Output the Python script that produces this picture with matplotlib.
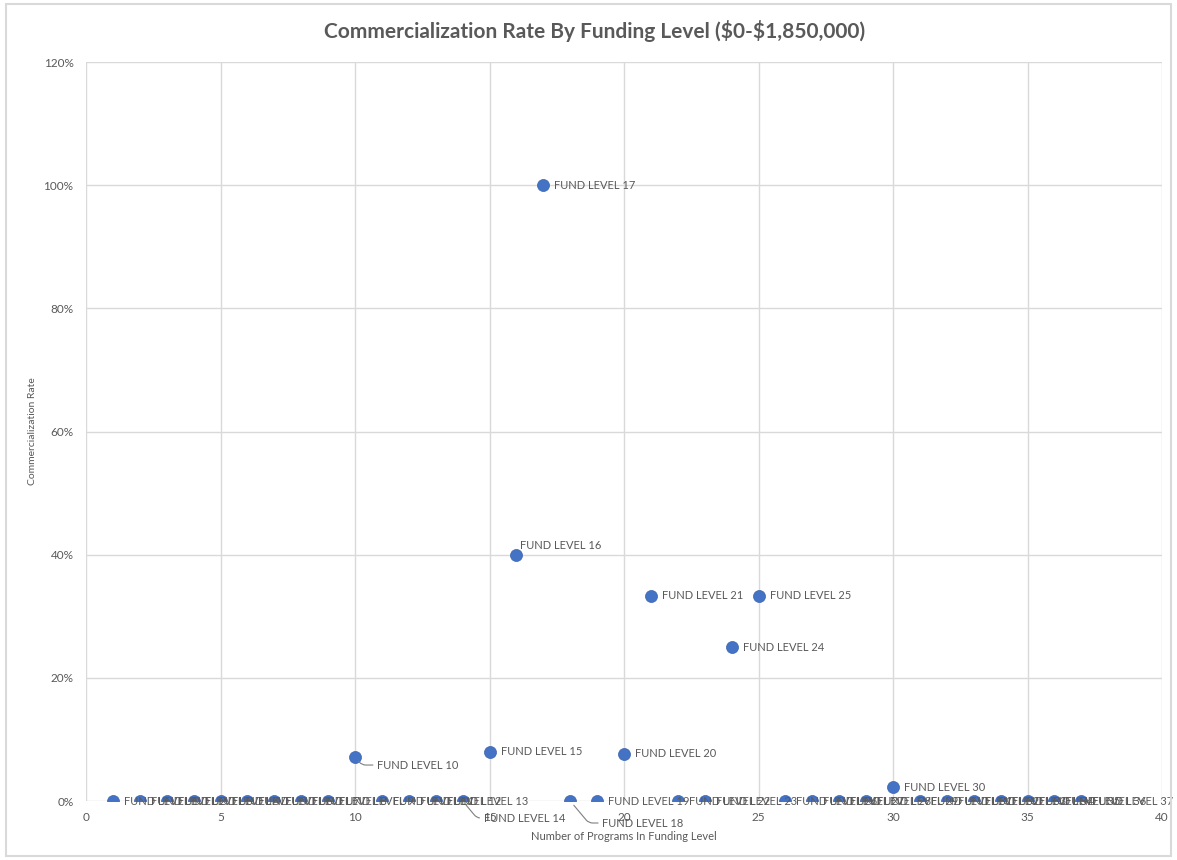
import numpy as np
import matplotlib.pyplot as plt
from matplotlib.ticker import PercentFormatter
from matplotlib.patches import Rectangle

plt.rcParams['font.family'] = ['Lato', 'DejaVu Sans']

# funding levels 1..37, x = number of programs, y = commercialization rate
levels = list(range(1, 38))
programs = list(range(1, 38))
rates = [0.0] * 37
nonzero = {10: 0.0714, 15: 0.08, 16: 0.40, 17: 1.00, 20: 0.0769,
           21: 0.3333, 24: 0.25, 25: 0.3333, 30: 0.022}
for lv, r in nonzero.items():
    rates[lv - 1] = r
labels = [f"FUND LEVEL {lv}" for lv in levels]

gray = '#595959'
grid = '#d9d9d9'
blue = '#4472c4'

fig = plt.figure(figsize=(11.77, 8.6), dpi=100)
fig.patches.append(Rectangle((0.005, 0.005), 0.99, 0.99, transform=fig.transFigure,
                             fill=False, edgecolor='#d9d9d9', linewidth=1.5))
ax = fig.add_axes([0.0731, 0.0686, 0.9142, 0.8593])

ax.scatter(programs, rates, s=75, color=blue, edgecolors='#3a64b0',
           linewidths=0.5, zorder=3)

# label offsets in pixels; a few labels sit away from the point with a leader
offsets = {16: (4, 4), 10: (22, -8), 14: (21, -17), 18: (32, -22)}
leaders = {10, 14, 18}
for lv, x, y, txt in zip(levels, programs, rates, labels):
    dx, dy = offsets.get(lv, (11, 0))
    kw = {}
    if lv in leaders:
        kw['arrowprops'] = dict(arrowstyle='-', color='#7f7f7f', lw=0.8,
                                shrinkA=1, shrinkB=4,
                                connectionstyle='angle,angleA=0,angleB=-50,rad=4')
    ax.annotate(txt, (x, y), xytext=(dx, dy), textcoords='offset pixels',
                ha='left', va='bottom' if lv == 16 else 'center',
                fontsize=8, color=gray, zorder=4, **kw)

ax.set_xlim(0, 40)
ax.set_ylim(0, 1.2)
ax.set_xticks(np.arange(0, 41, 5))
ax.set_yticks(np.arange(0, 1.21, 0.2))
ax.yaxis.set_major_formatter(PercentFormatter(1.0, decimals=0))
ax.grid(True, color=grid, linewidth=1)
ax.set_axisbelow(True)
for s in ax.spines.values():
    s.set_visible(False)
ax.tick_params(axis='x', length=0, colors=gray, labelsize=8.5, pad=8)
ax.tick_params(axis='y', length=0, colors=gray, labelsize=8.5, pad=9)

fig.suptitle(r'Commercialization Rate By Funding Level (\$0-\$1,850,000)',
             x=0.505, y=0.977, fontsize=15, fontweight='bold', color=gray)
ax.set_xlabel('Number of Programs In Funding Level', fontsize=8, color=gray,
              labelpad=6)
ax.set_ylabel('Commercialization Rate', fontsize=7.5, color=gray, labelpad=5)

fig.savefig('out.png', dpi=100)
